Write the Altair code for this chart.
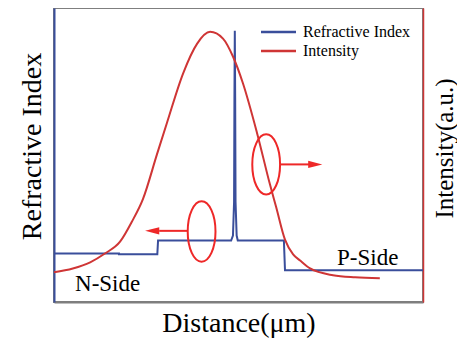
import altair as alt
import pandas as pd

# ---- data (arbitrary units 0-100) ----
ri_x = [0, 17.6, 17.6, 28.0, 28.2, 48.0, 48.5, 48.8, 48.9, 49.0, 49.1, 49.2, 49.5, 49.8, 62.3, 62.6, 100]
ri_y = [16.5, 16.5, 16.2, 16.2, 20.9, 20.9, 22.6, 34.0, 69.4, 92.3, 69.4, 34.0, 22.6, 20.9, 20.9, 10.8, 10.8]

int_x = [0, 5.1, 9.8, 13.8, 17.9, 21.1, 24.1, 27.9, 30.6, 35.0, 38.8, 42.3, 45.8, 48.5, 51.2,
         55.0, 58.5, 60.2, 62.6, 64.8, 66.7, 69.4, 75.6, 81.6, 88.3]
int_y = [10.1, 11.4, 13.5, 16.5, 20.5, 27.3, 35.0, 50.2, 60.9, 77.8, 87.9, 91.9, 89.6, 83.5, 74.4,
         57.6, 40.1, 32.3, 21.2, 16.2, 14.1, 11.4, 9.1, 8.4, 8.1]

series = ["Refractive Index", "Intensity"]

# annotation marks (ellipses, arrows, side labels)
ell_x = [57.5, 40.0]
ell_y = [46.8, 24.0]
arrow_x1 = [61.5, 36.3]
arrow_x2 = [69.5, 28.5]
arrow_y = [46.8, 24.2]
head_x = [70.8, 26.6]
head_dir = ["right", "left"]
side_labels = ["N-Side", "P-Side"]
side_x = [5.7, 76.7]
side_y = [3.7, 12.6]

BLUE = "#3a4e9b"
RED = "#cf3535"
ARED = "#ee2828"
GREY = "#7f7f7f"
FONT = "Liberation Serif"

ri_df = pd.DataFrame({"x": ri_x, "y": ri_y, "s": series[0], "o": list(range(len(ri_x)))})
int_df = pd.DataFrame({"x": int_x, "y": int_y, "s": series[1], "o": list(range(len(int_x)))})
ell_df = pd.DataFrame({"x": ell_x, "y": ell_y})
arr_df = pd.DataFrame({"x1": arrow_x1, "x2": arrow_x2, "y": arrow_y})
head_df = pd.DataFrame({"x": head_x, "y": arrow_y, "d": head_dir})
lab_df = pd.DataFrame({"x": side_x, "y": side_y, "t": side_labels})
leg_df = pd.DataFrame({"s": series})

xs = alt.Scale(domain=[0, 100], nice=False, zero=False)
ys = alt.Scale(domain=[0, 100], nice=False, zero=False)
cscale = alt.Scale(domain=series, range=[BLUE, RED])
color = alt.Color("s:N", scale=cscale, legend=None)

x_enc = alt.X("x:Q", scale=xs, axis=alt.Axis(
    title="Distance(μm)", labels=False, ticks=False, grid=False,
    domainColor=GREY, domainWidth=2, titleFont=FONT, titleFontSize=28,
    titleFontWeight="normal", titleColor="black", titlePadding=7))

blue = alt.Chart(ri_df).mark_line(strokeWidth=2).encode(
    x=x_enc,
    y=alt.Y("y:Q", scale=ys, axis=alt.Axis(
        orient="left", title="Refractive Index", labels=False, ticks=False, grid=False,
        domainColor=BLUE, domainWidth=2, titleFont=FONT, titleFontSize=28,
        titleFontWeight="normal", titleColor="black", titlePadding=8, titleY=138)),
    color=color, order="o:Q",
)

red = alt.Chart(int_df).mark_line(strokeWidth=2, interpolate="monotone").encode(
    x=alt.X("x:Q", scale=xs),
    y=alt.Y("y:Q", scale=ys, axis=alt.Axis(
        orient="right", title="Intensity(a.u.)", labels=False, ticks=False, grid=False,
        domainColor=RED, domainWidth=1.5, titleFont=FONT, titleFontSize=25,
        titleFontWeight="normal", titleColor="black", titlePadding=9,
        titleAngle=270, titleBaseline="top", titleY=140)),
    color=color, order="o:Q",
)

k = 0.46
c = 0.5523 * k
ell_path = (f"M {k} 0 C {k} 0.5523 {c} 1 0 1 C {-c} 1 {-k} 0.5523 {-k} 0 "
            f"C {-k} -0.5523 {-c} -1 0 -1 C {c} -1 {k} -0.5523 {k} 0 Z")
ellipses = alt.Chart(ell_df).mark_point(
    shape=ell_path, size=3650, filled=False, stroke=ARED, strokeWidth=2, opacity=1
).encode(x=alt.X("x:Q", scale=xs), y=alt.Y("y:Q", scale=ys, axis=None))

shafts = alt.Chart(arr_df).mark_rule(color=ARED, strokeWidth=2).encode(
    x=alt.X("x1:Q", scale=xs), x2="x2:Q", y=alt.Y("y:Q", scale=ys, axis=None))

heads = alt.Chart(head_df).mark_point(filled=True, size=200, opacity=1, color=ARED).encode(
    x=alt.X("x:Q", scale=xs), y=alt.Y("y:Q", scale=ys, axis=None),
    shape=alt.Shape("d:N", scale=alt.Scale(
        domain=["right", "left"],
        range=["M -1 -0.5 L 1 0 L -1 0.5 Z", "M 1 -0.5 L -1 0 L 1 0.5 Z"]), legend=None),
)

labels = alt.Chart(lab_df).mark_text(
    font=FONT, fontSize=23, align="left", baseline="alphabetic", color="black"
).encode(x=alt.X("x:Q", scale=xs), y=alt.Y("y:Q", scale=ys, axis=None), text="t:N")

# legend (drawn as marks)
leg_y = alt.Y("s:N", scale=alt.Scale(type="point", domain=series, range=[24, 43], padding=0), axis=None)
leg_lines = alt.Chart(leg_df).mark_rule(strokeWidth=2.5).encode(
    x=alt.value(207), x2=alt.value(242), y=leg_y, color=color)
leg_text = alt.Chart(leg_df).mark_text(
    font=FONT, fontSize=16, align="left", baseline="middle", color="black"
).encode(x=alt.value(249), y=leg_y, text="s:N")

chart = alt.layer(blue, red, ellipses, shafts, heads, labels, leg_lines, leg_text).resolve_scale(
    y="independent"
).properties(
    width=369, height=294,
    autosize=alt.AutoSizeParams(type="none"),
    padding={"left": 46, "top": 0, "right": 34, "bottom": 37},
).configure_view(stroke=GREY, strokeWidth=2)

chart.save("out.html", embed_options={"renderer": "svg", "actions": False})
